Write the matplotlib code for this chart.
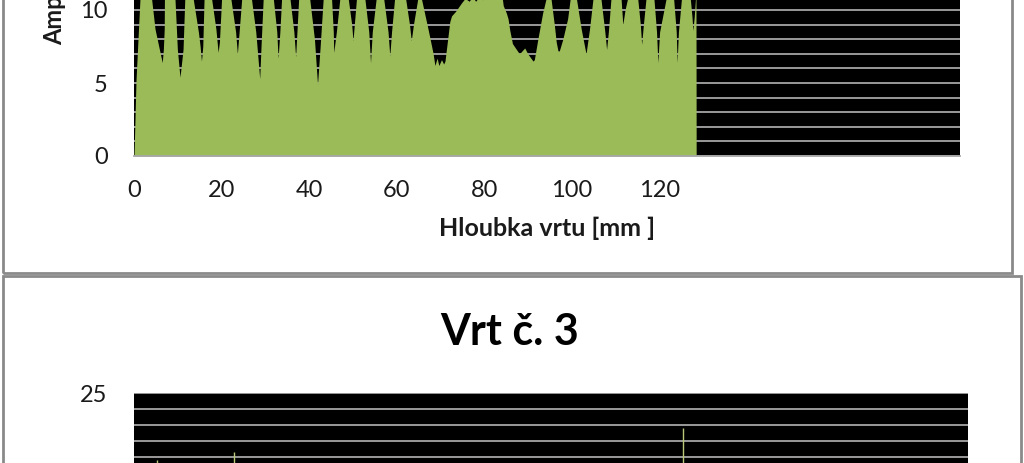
import matplotlib
matplotlib.use("Agg")
import matplotlib.pyplot as plt
from matplotlib.patches import Rectangle

plt.rcParams['font.family'] = ['Lato', 'DejaVu Sans']

# ---------------- data ----------------
# Top chart (clipped at the top of the screenshot): depth [mm] and amplitude
depth_top = [0, 0.1, 0.46, 1.37, 2.6,
             4.0, 4.8, 5.8, 6.45, 6.7, 6.9, 6.95, 8.1,
             9.35, 9.9, 10.5, 11.2, 11.6, 12.5,
             13.5, 14.7, 15.1, 15.4, 15.7, 16.0, 16.9,
             17.7, 18.7, 19.2, 19.5, 20.0, 21.0,
             22.1, 23.2, 23.6, 24.0, 24.6, 25.7,
             26.8, 27.8, 28.7, 29.0, 29.5, 30.6,
             31.8, 32.6, 32.9, 33.3, 33.7, 34.6,
             35.6, 36.5, 36.9, 37.2, 37.6, 38.8,
             40.1, 41.2, 41.9, 42.5, 43.2, 44.1,
             45.1, 45.5, 45.6, 46.2, 47.0, 48.0,
             48.9, 49.7, 50.0, 50.3, 50.8, 51.7,
             52.7, 53.6, 54.0, 54.4, 55.3, 56.1,
             57.0, 58.0, 58.4, 58.8, 59.5, 60.7,
             62.0, 62.9, 63.3, 63.8, 64.8, 65.2,
             65.6, 67.2, 68.3, 68.7, 69.2, 69.6, 70.2, 70.7, 71.0, 72.1, 72.5, 73.4, 74.8, 75.6,
             76.5, 77.3, 78.0, 78.8, 79.6, 80.5, 82.5, 84.0, 84.3, 85.0, 85.4, 85.8,
             86.4, 87.3, 88.0, 89.2, 89.9, 91.1, 91.4, 92.2, 93.3, 94.1, 94.5,
             95.2, 96.0, 96.4, 96.8, 97.1, 97.9, 99.0, 99.6, 100.0,
             101.0, 102.1, 103.2, 104.0, 104.8, 105.9,
             106.6, 107.5, 107.9, 108.3, 108.9, 109.7,
             111.2, 111.6, 112.1, 112.7, 113.9,
             115.0, 115.6, 115.9, 116.3, 116.9, 117.7,
             118.7, 119.3, 119.6, 120.0, 121.5, 122.5,
             123.2, 123.8, 124.0, 124.3, 125.0, 126.0,
             127.0, 127.4, 127.6, 127.9, 128.2, 128.3, 128.35]
amp_top = [0, 1.1, 5.2, 10.8, 13,
           10.8, 8.7, 7.3, 6.4, 7.3, 8.7, 10.8, 13,
           10.8, 7.3, 5.4, 7.3, 10.8, 13,
           10.8, 8.5, 7.5, 6.5, 7.5, 10.8, 13,
           10.8, 8.7, 7.1, 7.8, 10.8, 13,
           10.8, 8.5, 7.0, 8.5, 10.8, 13,
           10.8, 8.5, 5.3, 7.5, 10.8, 13,
           10.8, 8.5, 6.7, 8.5, 10.8, 13,
           10.8, 8.5, 6.8, 8.5, 10.8, 13,
           10.8, 8.0, 4.9, 7.5, 10.8, 13,
           10.8, 8.5, 7.1, 8.5, 10.8, 13,
           10.8, 9.0, 7.9, 9.0, 10.8, 13,
           10.8, 8.5, 6.4, 8.5, 10.8, 13,
           10.8, 8.5, 6.85, 8.5, 10.8, 13,
           10.8, 9.0, 7.9, 9.0, 10.8, 13,
           10.8, 8.6, 7.0, 6.2, 6.7, 6.2, 6.6, 6.3, 6.5, 9.2, 9.6, 9.9, 10.5, 10.8,
           10.6, 10.9, 10.6, 10.9, 10.7, 11.2, 11.3, 11.0, 10.3, 9.8, 9.4, 8.6,
           7.7, 7.3, 7.0, 7.4, 7.0, 6.5, 6.6, 8.0, 9.8, 10.8, 13,
           10.8, 8.9, 7.8, 7.2, 7.2, 8.0, 9.4, 10.8, 13,
           10.8, 8.7, 7.0, 8.7, 10.8, 13,
           10.8, 8.5, 7.3, 8.5, 10.8, 13,
           10.8, 9.0, 10.0, 10.8, 13,
           10.8, 9.0, 7.65, 9.0, 10.8, 13,
           10.8, 8.5, 6.4, 8.5, 10.8, 13,
           10.8, 8.5, 6.4, 8.5, 10.8, 13,
           10.8, 9.5, 8.6, 9.5, 10.8, 12, 0]

x_ticks_top = [0, 20, 40, 60, 80, 100, 120]
y_ticks_top = [0, 5, 10]

# Bottom chart "Vrt č. 3" (only the top strip is visible): spikes above 20
title_bottom = "Vrt č. 3"
spike_depth = [5.25, 22.8, 125.3]
spike_amp = [20.8, 21.3, 22.8]
y_ticks_bottom = [25]

x_label = "Hloubka vrtu [mm ]"
y_label = "Amplituda"

GREEN = '#9BBB59'
GRID = '#a6a6a6'
FRAME = '#8a8a8a'

W, H = 1024, 463
fig = plt.figure(figsize=(W / 100, H / 100), dpi=100)
fig.patch.set_facecolor('white')


def fx(px):
    return px / W


def fy(py):
    return 1 - py / H


# chart frames
fig.add_artist(Rectangle((fx(2.5), fy(273)), (1012 - 2.5) / W, (273 + 20) / H,
                         transform=fig.transFigure, fill=False, ec=FRAME, lw=2))
fig.add_artist(Rectangle((fx(2.5), fy(490)), (1021 - 2.5) / W, (490 - 276) / H,
                         transform=fig.transFigure, fill=False, ec=FRAME, lw=2))

FS = 17

# ---------------- top chart ----------------
ppu1 = 14.6
ax1 = fig.add_axes([fx(134), fy(156), (960 - 134) / W, 25 * ppu1 / H])
ax1.set_facecolor('black')
ax1.set_xlim(0, (960 - 134) / 4.38)
ax1.set_ylim(0, 25)
ax1.set_yticks(range(0, 26), minor=True)
ax1.set_yticks(y_ticks_top)
ax1.set_xticks(x_ticks_top)
ax1.grid(True, which='both', axis='y', color=GRID, lw=1.3, zorder=0)
ax1.set_axisbelow(True)
ax1.fill_between(depth_top, amp_top, 0, color=GREEN, lw=0, zorder=2)
for s in ['top', 'left', 'right']:
    ax1.spines[s].set_visible(False)
ax1.spines['bottom'].set_color(GRID)
ax1.spines['bottom'].set_linewidth(1.3)
ax1.tick_params(axis='both', which='both', length=0, labelsize=FS, colors='#1a1a1a')
ax1.tick_params(axis='y', pad=19)
ax1.tick_params(axis='x', pad=17)

fig.text(fx(547), fy(236), x_label, ha='center', va='baseline',
         fontsize=18, fontweight='bold', color='#1a1a1a')
fig.text(fx(55), fy(45), y_label, ha='center', va='bottom', rotation=90,
         fontsize=FS, fontweight='bold', color='#1a1a1a')

# ---------------- bottom chart ----------------
ppu2 = 15.9
ax2 = fig.add_axes([fx(134), fy(393 + 25 * ppu2), (968 - 134) / W, 25 * ppu2 / H])
ax2.set_facecolor('black')
ax2.set_xlim(0, (968 - 134) / 4.38)
ax2.set_ylim(0, 25)
ax2.set_yticks(range(0, 26), minor=True)
ax2.set_yticks(y_ticks_bottom)
ax2.set_xticks([])
ax2.grid(True, which='both', axis='y', color=GRID, lw=1.3, zorder=0)
ax2.set_axisbelow(True)
ax2.vlines(spike_depth, 0, spike_amp, color='#b9c978', lw=1.0, zorder=2)
for s in ax2.spines.values():
    s.set_visible(False)
ax2.tick_params(axis='both', which='both', length=0, labelsize=FS, colors='#1a1a1a', pad=19)

fig.text(fx(510), fy(345), title_bottom, ha='center', va='baseline',
         fontsize=31, fontweight='bold', color='black')

fig.savefig('out.png', dpi=100)
